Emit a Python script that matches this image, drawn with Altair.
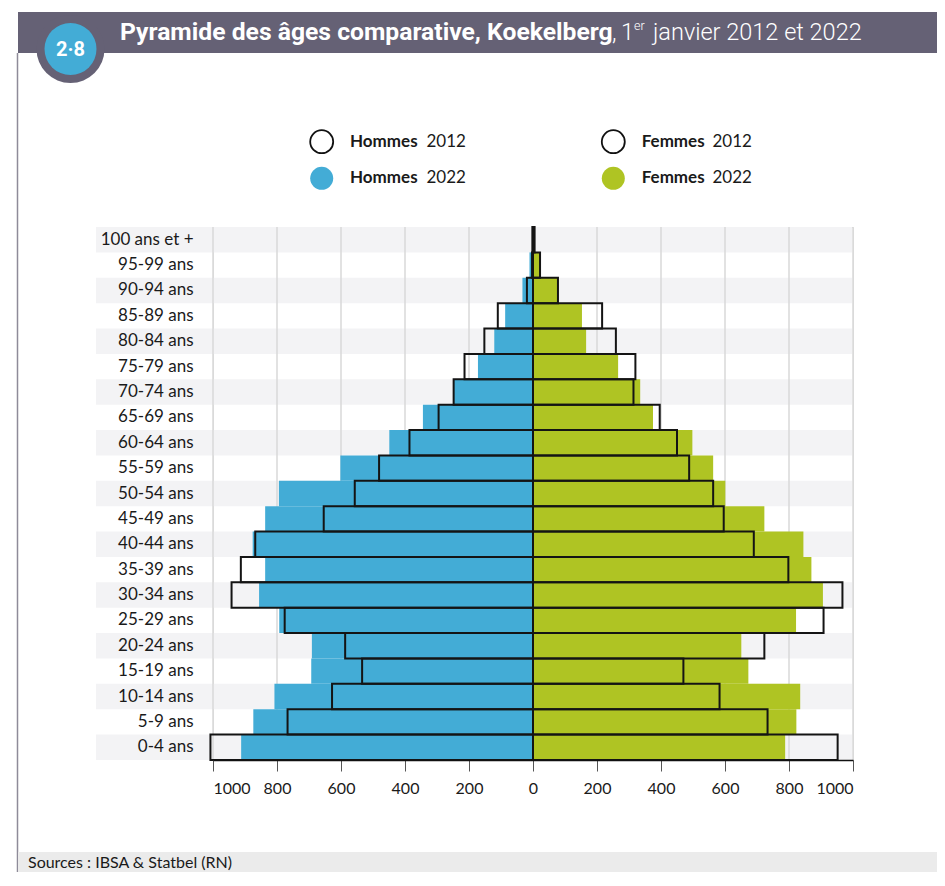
import altair as alt
import pandas as pd

# ---------------- data ----------------
ages = ["100 ans et +", "95-99 ans", "90-94 ans", "85-89 ans", "80-84 ans",
        "75-79 ans", "70-74 ans", "65-69 ans", "60-64 ans", "55-59 ans",
        "50-54 ans", "45-49 ans", "40-44 ans", "35-39 ans", "30-34 ans",
        "25-29 ans", "20-24 ans", "15-19 ans", "10-14 ans", "5-9 ans", "0-4 ans"]
hommes_2012 = [2, 3, 19, 110, 152, 214, 248, 295, 386, 481, 557, 654, 868,
               913, 942, 776, 587, 534, 628, 767, 1008]
hommes_2022 = [3, 11, 33, 87, 121, 172, 250, 344, 449, 602, 794, 837, 876,
               837, 856, 793, 691, 693, 808, 874, 912]
femmes_2012 = [5, 22, 78, 216, 259, 320, 314, 396, 450, 488, 563, 596, 690,
               798, 967, 908, 723, 470, 583, 733, 952]
femmes_2022 = [6, 22, 78, 153, 166, 266, 335, 375, 498, 563, 601, 723, 845,
               870, 906, 822, 651, 673, 835, 823, 788]
ticks = [-1000, -800, -600, -400, -200, 0, 200, 400, 600, 800, 1000]

BLUE = "#43acd6"
GREEN = "#afc423"
HEAD = "#656175"
STRIPE = "#f3f3f5"

W, H = 640, 533
PL, PT = 205, 219
SVG_W, SVG_H = 929, 864

df22 = pd.DataFrame({
    "age": ages * 2,
    "v": [-x for x in hommes_2022] + femmes_2022,
    "sexe": ["Hommes"] * len(ages) + ["Femmes"] * len(ages),
})
df12 = pd.DataFrame({
    "age": ages * 2,
    "v": [-x for x in hommes_2012] + femmes_2012,
})
stripes = pd.DataFrame({"age": ages[0::2]})
grid = pd.DataFrame({"g": [t for t in ticks if t != 0]})
one = pd.DataFrame({"a": [0]})

yscale = alt.Scale(domain=ages, paddingInner=0, paddingOuter=0)
xscale = alt.Scale(domain=[-1000, 1000], nice=False)
xaxis = alt.Axis(values=ticks, labelExpr="abs(datum.value)", grid=False,
                 domainColor="#111111", domainWidth=1.5, tickColor="#555555",
                 tickSize=11, tickWidth=1, labelFont="Lato", labelFontSize=16,
                 labelColor="#1a1a1a", labelPadding=9, zindex=2)
yaxis = alt.Axis(domain=False, ticks=False, labelFont="Lato", labelFontSize=17,
                 labelColor="#1a1a1a", labelPadding=20, grid=False)

Y = alt.Y("age:N", scale=yscale, axis=yaxis, title=None, sort=ages)


def txt(s, x, y, size, weight="normal", color="#1a1a1a", font="Lato", align="left"):
    return alt.Chart(one).mark_text(
        text=s, font=font, fontSize=size, fontWeight=weight, color=color,
        align=align, baseline="middle"
    ).encode(x=alt.value(x), y=alt.value(y))


OX, OY = 8 + PL, 8 + PT  # page position of the plot origin

# ---------------- decorations ----------------
header = alt.Chart(one).mark_rect(color=HEAD).encode(
    x=alt.value(18 - OX), x2=alt.value(960 - OX),
    y=alt.value(12 - OY), y2=alt.value(53 - OY))
border = alt.Chart(one).mark_rule(color="#8e8b99", strokeWidth=1.5).encode(
    x=alt.value(17.5 - OX), y=alt.value(53 - OY), y2=alt.value(900 - OY))
source_band = alt.Chart(one).mark_rect(color="#ebebeb").encode(
    x=alt.value(18 - OX), x2=alt.value(960 - OX),
    y=alt.value(852 - OY), y2=alt.value(900 - OY))
ring = alt.Chart(one).mark_point(filled=True, shape="circle", size=68 * 68,
                                 color=HEAD, opacity=1).encode(
    x=alt.value(70.5 - OX), y=alt.value(49 - OY))
badge = alt.Chart(one).mark_point(filled=True, shape="circle", size=52 * 52,
                                  color=BLUE, opacity=1).encode(
    x=alt.value(70.5 - OX), y=alt.value(49 - OY))

# ---------------- data layers ----------------
stripe_layer = alt.Chart(stripes).mark_rect(color=STRIPE).encode(
    y=Y, x=alt.value(96 - OX), x2=alt.value(852 - OX))
grid_layer = alt.Chart(grid).mark_rule(color="#d8d8d8", strokeWidth=1.5).encode(
    x=alt.X("g:Q", scale=xscale, axis=xaxis, title=None),
    y=alt.value(0), y2=alt.value(H))
bars22 = alt.Chart(df22).mark_bar(opacity=1).encode(
    y=Y,
    x=alt.X("v:Q", scale=xscale, axis=xaxis, title=None),
    color=alt.Color("sexe:N", scale=alt.Scale(domain=["Hommes", "Femmes"],
                                              range=[BLUE, GREEN]), legend=None))
bars12 = alt.Chart(df12).mark_bar(fill="white", fillOpacity=0, stroke="#141414",
                                  strokeWidth=2).encode(
    y=Y, x=alt.X("v:Q", scale=xscale, axis=xaxis, title=None))

# ---------------- legend ----------------
lx_h, lx_f = 321.7 - OX, 613.3 - OX
ly1, ly2 = 141.7 - OY, 178.3 - OY
leg = [
    alt.Chart(one).mark_point(shape="circle", size=23 * 23, filled=False,
                              color="#111111", strokeWidth=1.8, opacity=1).encode(
        x=alt.value(lx_h), y=alt.value(ly1)),
    alt.Chart(one).mark_point(shape="circle", size=23 * 23, filled=True,
                              color=BLUE, opacity=1).encode(
        x=alt.value(lx_h), y=alt.value(ly2)),
    alt.Chart(one).mark_point(shape="circle", size=23 * 23, filled=False,
                              color="#111111", strokeWidth=1.8, opacity=1).encode(
        x=alt.value(lx_f), y=alt.value(ly1)),
    alt.Chart(one).mark_point(shape="circle", size=23 * 23, filled=True,
                              color=GREEN, opacity=1).encode(
        x=alt.value(lx_f), y=alt.value(ly2)),
    txt("Hommes", 350 - OX, ly1, 17, "bold"),
    txt("2012", 426.5 - OX, ly1, 17),
    txt("Hommes", 350 - OX, ly2, 17, "bold"),
    txt("2022", 426.5 - OX, ly2, 17),
    txt("Femmes", 641.7 - OX, ly1, 17, "bold"),
    txt("2012", 712.5 - OX, ly1, 17),
    txt("Femmes", 641.7 - OX, ly2, 17, "bold"),
    txt("2022", 712.5 - OX, ly2, 17),
]

# ---------------- titles ----------------
titles = [
    txt("2·8", 70.5 - OX, 50 - OY, 20, "bold", "white", "Roboto", "center"),
    txt("Pyramide des âges comparative, Koekelberg", 120 - OX, 33 - OY, 24.7,
        "bold", "white", "Roboto"),
    txt(",", 612 - OX, 33 - OY, 23.5, 300, "white", "Roboto"),
    txt("1", 621 - OX, 33 - OY, 23.5, 300, "white", "Roboto"),
    txt("er", 634 - OX, 26 - OY, 12.5, 300, "white", "Roboto"),
    txt("janvier 2012 et 2022", 653 - OX, 33 - OY, 23.5, 300, "white", "Roboto"),
    txt("Sources : IBSA & Statbel (RN)", 28 - OX, 863 - OY, 16),
]

chart = alt.layer(
    header, border, source_band, ring, badge,
    stripe_layer, grid_layer, bars22, bars12,
    *leg, *titles
).properties(
    width=W, height=H,
    autosize=alt.AutoSizeParams(type="none"),
    padding={"left": PL, "top": PT, "right": SVG_W - PL - W, "bottom": SVG_H - PT - H},
).configure_view(stroke=None).configure(background="white")

chart.save("out.html", embed_options={"renderer": "svg", "actions": False})
